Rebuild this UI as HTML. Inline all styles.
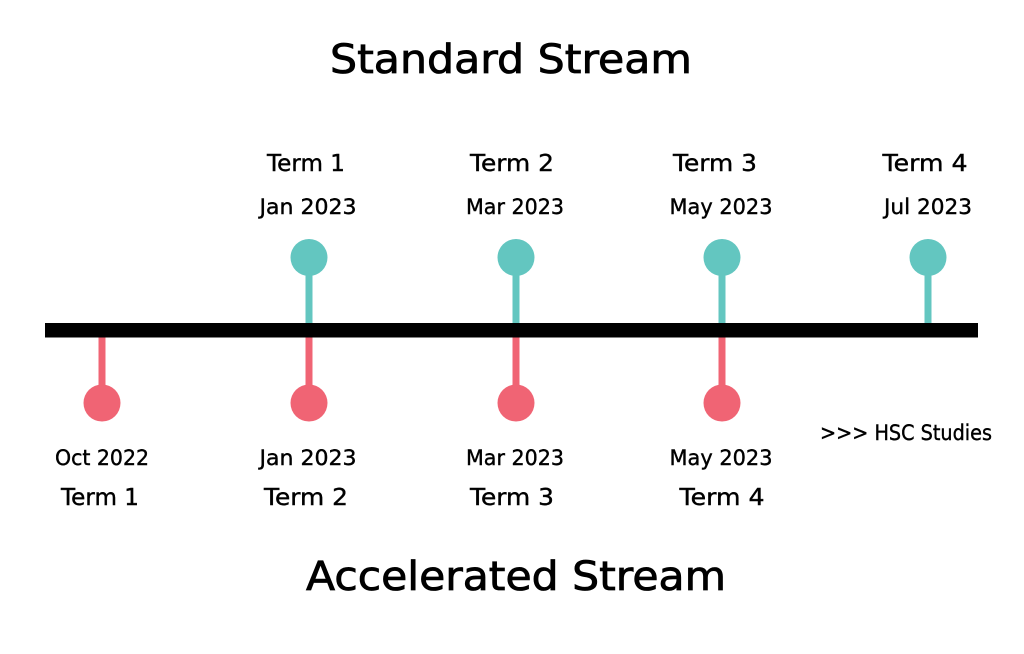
<!DOCTYPE html>
<html><head><meta charset="utf-8"><style>
html,body{margin:0;padding:0;background:#fff;}
svg{display:block;}
text{font-family:"DejaVu Sans","Liberation Sans",sans-serif;fill:#000;stroke:#000;stroke-width:0.4;}
</style></head><body>
<svg width="1024" height="654" viewBox="0 0 1024 654" xmlns="http://www.w3.org/2000/svg">
<text x="511" y="73" font-size="40" text-anchor="middle" textLength="362" lengthAdjust="spacingAndGlyphs" style="stroke-width:0.8">Standard Stream</text>
<text x="516" y="590" font-size="40" text-anchor="middle" textLength="420" lengthAdjust="spacingAndGlyphs" style="stroke-width:0.8">Accelerated Stream</text>

<g fill="#63c6c0" stroke="#63c6c0" stroke-width="7">
<line x1="309" y1="258" x2="309" y2="325"/><circle cx="309" cy="257.5" r="18.5" stroke="none"/>
<line x1="516" y1="258" x2="516" y2="325"/><circle cx="516" cy="257.5" r="18.5" stroke="none"/>
<line x1="722" y1="258" x2="722" y2="325"/><circle cx="722" cy="257.5" r="18.5" stroke="none"/>
<line x1="928" y1="258" x2="928" y2="325"/><circle cx="928" cy="257.5" r="18.5" stroke="none"/>
</g>
<g fill="#f06474" stroke="#f06474" stroke-width="7">
<line x1="102" y1="335" x2="102" y2="403"/><circle cx="102" cy="403" r="18.5" stroke="none"/>
<line x1="309" y1="335" x2="309" y2="403"/><circle cx="309" cy="403" r="18.5" stroke="none"/>
<line x1="516" y1="335" x2="516" y2="403"/><circle cx="516" cy="403" r="18.5" stroke="none"/>
<line x1="722" y1="335" x2="722" y2="403"/><circle cx="722" cy="403" r="18.5" stroke="none"/>
</g>
<rect x="45" y="323" width="933" height="14.5" fill="#000"/>

<g font-size="23" text-anchor="middle">
<text x="306" y="171" textLength="78" lengthAdjust="spacingAndGlyphs">Term 1</text>
<text x="512" y="171" textLength="84" lengthAdjust="spacingAndGlyphs">Term 2</text>
<text x="715" y="171" textLength="84" lengthAdjust="spacingAndGlyphs">Term 3</text>
<text x="925" y="171" textLength="85" lengthAdjust="spacingAndGlyphs">Term 4</text>
<text x="100" y="505" textLength="78" lengthAdjust="spacingAndGlyphs">Term 1</text>
<text x="306" y="505" textLength="84" lengthAdjust="spacingAndGlyphs">Term 2</text>
<text x="512" y="505" textLength="84" lengthAdjust="spacingAndGlyphs">Term 3</text>
<text x="722" y="505" textLength="85" lengthAdjust="spacingAndGlyphs">Term 4</text>
</g>
<g font-size="21" text-anchor="middle">
<text x="308" y="214" textLength="97" lengthAdjust="spacingAndGlyphs">Jan 2023</text>
<text x="515" y="214" textLength="98" lengthAdjust="spacingAndGlyphs">Mar 2023</text>
<text x="721" y="214" textLength="103" lengthAdjust="spacingAndGlyphs">May 2023</text>
<text x="928" y="214" textLength="88" lengthAdjust="spacingAndGlyphs">Jul 2023</text>
<text x="102" y="465" textLength="94" lengthAdjust="spacingAndGlyphs">Oct 2022</text>
<text x="308" y="465" textLength="97" lengthAdjust="spacingAndGlyphs">Jan 2023</text>
<text x="515" y="465" textLength="98" lengthAdjust="spacingAndGlyphs">Mar 2023</text>
<text x="721" y="465" textLength="103" lengthAdjust="spacingAndGlyphs">May 2023</text>
<text x="906" y="440" textLength="172" lengthAdjust="spacingAndGlyphs">&gt;&gt;&gt; HSC Studies</text>
</g>
</svg>
</body></html>
